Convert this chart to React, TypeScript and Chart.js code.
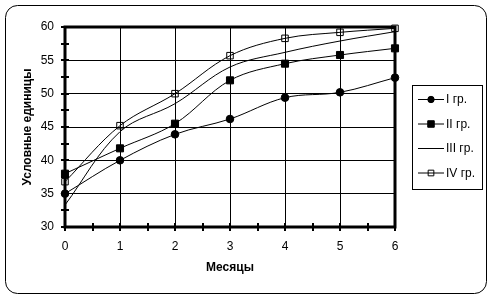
import React, { useEffect, useRef } from 'react';
import { Chart, registerables } from 'chart.js';

Chart.register(...registerables);

const months = [0, 1, 2, 3, 4, 5, 6];
const group1 = [35, 40, 43.9, 46.2, 49.4, 50.2, 52.4];
const group2 = [38, 41.8, 45.5, 52, 54.5, 55.8, 56.8];
const group3 = [33.3, 44.3, 48.5, 54, 56.2, 57.9, 59.3];
const group4 = [36.8, 45.2, 50, 55.7, 58.3, 59.2, 59.8];
const seriesLabels = ['I гр.', 'II гр.', 'III гр.', 'IV гр.'];
const yTitle = 'Условные единицы';
const xTitle = 'Месяцы';

const FONT = '"Liberation Sans", Arial, sans-serif';

type Marker = { style: string; radius: number; legendRadius: number; fill: string; };
const markers: Marker[] = [
  { style: 'circle', radius: 3.8, legendRadius: 3.2, fill: '#000' },
  { style: 'rect', radius: 5, legendRadius: 4.6, fill: '#000' },
  { style: 'line', radius: 0, legendRadius: 0, fill: 'transparent' },
  { style: 'rect', radius: 4.6, legendRadius: 4, fill: 'rgba(0,0,0,0)' },
];

function roundRect(ctx: CanvasRenderingContext2D, x: number, y: number, w: number, h: number, r: number) {
  ctx.beginPath();
  ctx.moveTo(x + r, y);
  ctx.lineTo(x + w - r, y);
  ctx.arcTo(x + w, y, x + w, y + r, r);
  ctx.lineTo(x + w, y + h - r);
  ctx.arcTo(x + w, y + h, x + w - r, y + h, r);
  ctx.lineTo(x + r, y + h);
  ctx.arcTo(x, y + h, x, y + h - r, r);
  ctx.lineTo(x, y + r);
  ctx.arcTo(x, y, x + r, y, r);
  ctx.closePath();
}

const decorPlugin = {
  id: 'decor',
  beforeDraw(chart: any) {
    const ctx = chart.ctx as CanvasRenderingContext2D;
    ctx.save();
    ctx.fillStyle = '#fff';
    ctx.fillRect(0, 0, chart.width, chart.height);
    ctx.strokeStyle = '#000';
    ctx.lineWidth = 1;
    roundRect(ctx, 5.5, 5.5, 481, 288, 12);
    ctx.stroke();
    ctx.restore();
  },
  beforeDatasetsDraw(chart: any) {
    const ctx = chart.ctx as CanvasRenderingContext2D;
    const { left, right, top, bottom } = chart.chartArea;
    const xs = chart.scales.x;
    const ys = chart.scales.y;
    ctx.save();
    ctx.strokeStyle = '#000';
    ctx.lineWidth = 3;
    ctx.strokeRect(left, top, right - left, bottom - top);
    ctx.lineWidth = 2;
    ctx.beginPath();
    for (let v = 30; v <= 60; v += 2.5) {
      const y = Math.round(ys.getPixelForValue(v));
      ctx.moveTo(left - 4, y);
      ctx.lineTo(left + 4, y);
    }
    for (let v = 0; v <= 6; v += 0.5) {
      const x = Math.round(xs.getPixelForValue(v));
      ctx.moveTo(x, bottom - 4);
      ctx.lineTo(x, bottom + 4);
    }
    ctx.stroke();
    ctx.restore();
  },
  afterDraw(chart: any) {
    const ctx = chart.ctx as CanvasRenderingContext2D;
    ctx.save();
    ctx.strokeStyle = '#000';
    ctx.lineWidth = 1;
    ctx.strokeRect(412.5, 85.5, 70, 104);
    const rows = [99, 123.5, 148, 172.5];
    seriesLabels.forEach((label, i) => {
      const y = rows[i];
      ctx.strokeStyle = '#000';
      ctx.lineWidth = 1;
      ctx.beginPath();
      ctx.moveTo(418, y + 0.5);
      ctx.lineTo(444, y + 0.5);
      ctx.stroke();
      const m = markers[i];
      if (m.style !== 'line') {
        ctx.fillStyle = m.fill;
        ctx.beginPath();
        if (m.style === 'circle') {
          ctx.arc(431, y + 0.5, m.legendRadius, 0, Math.PI * 2);
        } else {
          const s = Math.SQRT1_2 * m.legendRadius;
          ctx.rect(431 - s, y + 0.5 - s, 2 * s, 2 * s);
        }
        ctx.fill();
        ctx.stroke();
      }
      ctx.fillStyle = '#000';
      ctx.font = `12px ${FONT}`;
      ctx.textBaseline = 'middle';
      ctx.textAlign = 'left';
      ctx.fillText(label, 446, y + 1);
    });
    ctx.restore();
  },
};

export default function App() {
  const ref = useRef<HTMLCanvasElement | null>(null);
  useEffect(() => {
    document.body.style.margin = '0';
    const series = [group1, group2, group3, group4];
    const chart = new Chart(ref.current as HTMLCanvasElement, {
      type: 'line',
      data: {
        datasets: series.map((vals, i) => ({
          label: seriesLabels[i],
          data: months.map((m, j) => ({ x: m, y: vals[j] })),
          borderColor: '#000',
          borderWidth: 1,
          tension: 0.35,
          pointStyle: markers[i].style === 'line' ? 'circle' : markers[i].style,
          pointRadius: markers[i].style === 'line' ? 0 : markers[i].radius,
          pointBackgroundColor: markers[i].fill,
          pointBorderColor: '#000',
          pointBorderWidth: 1,
          fill: false,
          clip: false as any,
        })),
      },
      options: {
        animation: false,
        responsive: false,
        devicePixelRatio: 1,
        layout: { padding: { left: 0, top: 27, right: 98, bottom: 0 } },
        plugins: { legend: { display: false }, tooltip: { enabled: false } },
        scales: {
          x: {
            type: 'linear',
            min: 0, max: 6,
            afterFit: (s: any) => { s.height = 72; },
            ticks: { stepSize: 1, color: '#000', padding: 12, font: { family: FONT, size: 12 } },
            grid: { color: '#000', lineWidth: 1, drawTicks: false },
            border: { display: false },
            title: { display: true, text: xTitle, color: '#000', font: { family: FONT, size: 12, weight: 'bold' }, padding: { top: 0, bottom: 24 } },
          },
          y: {
            type: 'linear',
            min: 30, max: 60,
            afterFit: (s: any) => { s.width = 65; },
            ticks: { stepSize: 5, color: '#000', padding: 11, font: { family: FONT, size: 12 } },
            grid: { color: '#000', lineWidth: 1, drawTicks: false },
            border: { display: false },
            title: { display: true, text: yTitle, color: '#000', font: { family: FONT, size: 12, weight: 'bold' }, padding: { top: 20, bottom: 0 } },
          },
        },
      },
      plugins: [decorPlugin],
    } as any);
    return () => chart.destroy();
  }, []);
  return (
    <div style={{ position: 'absolute', left: 0, top: 0, width: 493, height: 299 }}>
      <canvas ref={ref} width={493} height={299} />
    </div>
  );
}
